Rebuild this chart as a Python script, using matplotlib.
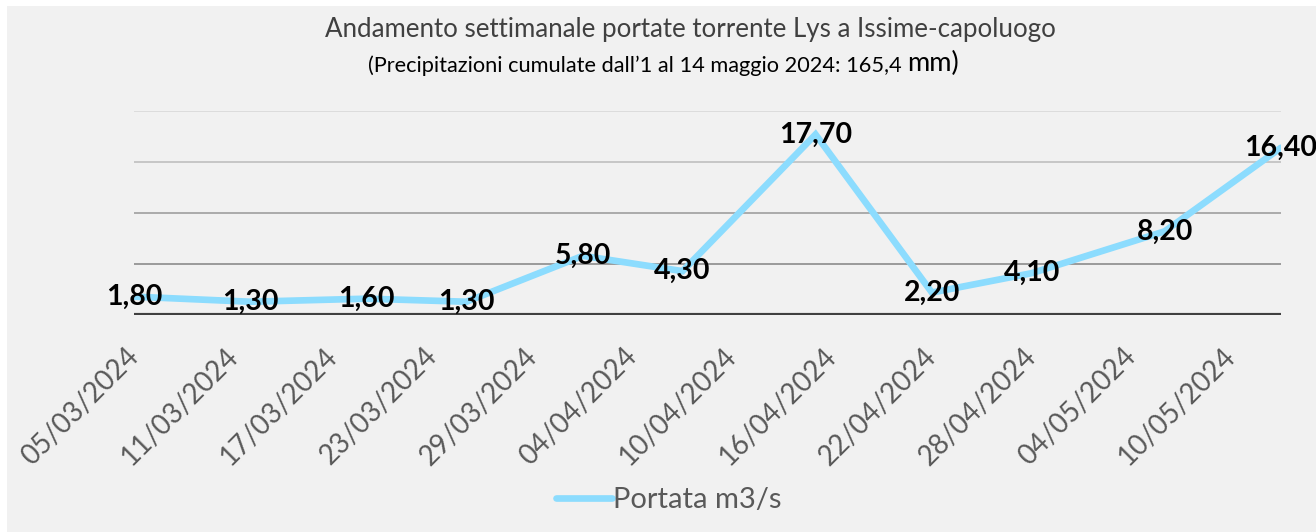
import matplotlib
matplotlib.use('Agg')
import matplotlib.pyplot as plt
import matplotlib.transforms as mtransforms
from matplotlib.patches import Rectangle
from matplotlib.text import Annotation
from datetime import datetime

# weekly discharge of the Lys at Issime (m3/s), measured on these dates
point_dates = ['05/03/2024', '12/03/2024', '19/03/2024', '25/03/2024', '01/04/2024', '07/04/2024',
               '15/04/2024', '22/04/2024', '28/04/2024', '06/05/2024', '13/05/2024']
portata = [1.80, 1.30, 1.60, 1.30, 5.80, 4.30, 17.70, 2.20, 4.10, 8.20, 16.40]

# category labels shown on the x axis
tick_labels = ['05/03/2024', '11/03/2024', '17/03/2024', '23/03/2024', '29/03/2024', '04/04/2024',
               '10/04/2024', '16/04/2024', '22/04/2024', '28/04/2024', '04/05/2024', '10/05/2024']

y_grid = [5, 10, 15, 20]
grid_colors = ['#9a9a9a', '#ababab', '#c6c6c6', '#dcdcdc']

title = 'Andamento settimanale portate torrente Lys a Issime-capoluogo'
subtitle = '(Precipitazioni cumulate dall\u20191 al 14 maggio 2024: 165,4 '
series_name = 'Portata m3/s'


def to_date(s):
    return datetime.strptime(s, '%d/%m/%Y')


plt.rcParams['font.family'] = ['Lato', 'DejaVu Sans']

W, H = 1316, 532
fig = plt.figure(figsize=(W / 100, H / 100), dpi=100)
fig.patch.set_facecolor('white')
fig.patches.append(Rectangle((7 / W, 0), 1 - 7 / W, 1 - 6 / H, transform=fig.transFigure,
                             facecolor='#f1f1f1', edgecolor='none', zorder=-10))

ax = fig.add_axes([134 / W, 1 - 315 / H, (1281 - 134) / W, (315 - 111) / H])
ax.set_facecolor('none')
ax.set_zorder(2)

xs = [to_date(d) for d in point_dates]
for yv, c in zip(y_grid, grid_colors):
    ax.axhline(yv, color=c, lw=1.4, zorder=1)
ax.axhline(0, color='#404040', lw=3, zorder=2)

line, = ax.plot(xs, portata, color='#8cdcfe', lw=4.8, solid_joinstyle='miter',
                solid_capstyle='round', zorder=3)

for x, v in zip(xs, portata):
    ax.text(x, v, f'{v:.2f}'.replace('.', ','), ha='center', va='center',
            fontsize=20.5, fontweight='bold', color='black', zorder=4)

ax.set_xlim(xs[0], xs[-1])
ax.set_ylim(0, 20)
ax.set_xticks([to_date(d) for d in tick_labels])
ax.set_xticklabels(tick_labels, rotation=45, ha='right', rotation_mode='anchor',
                   fontsize=20, color='#595959')
ax.tick_params(axis='x', length=0, pad=20)
shift = mtransforms.ScaledTranslation(-0.09, 0.0, fig.dpi_scale_trans)
for lab in ax.get_xticklabels():
    lab.set_transform(lab.get_transform() + shift)
ax.set_yticks([])
for sp in ax.spines.values():
    sp.set_visible(False)

fig.text(690 / W, 1 - 30 / H, title, ha='center', va='center', fontsize=18.6,
         color='#404040', zorder=5)
t = fig.text(368 / W, 1 - 66 / H, subtitle, ha='left', va='center', fontsize=15.7,
             color='black', zorder=5)
fig.add_artist(Annotation('mm)', xy=(1, 0), xycoords=t, ha='left', va='bottom',
                          fontsize=19.5, color='black', zorder=5))

fig.legend([line], [series_name], loc='center', bbox_to_anchor=(669 / W, 1 - 500 / H),
           frameon=False, fontsize=21, handlelength=1.9, handletextpad=0.05,
           labelcolor='#595959')

fig.savefig('out.png', dpi=100, facecolor=fig.get_facecolor())
